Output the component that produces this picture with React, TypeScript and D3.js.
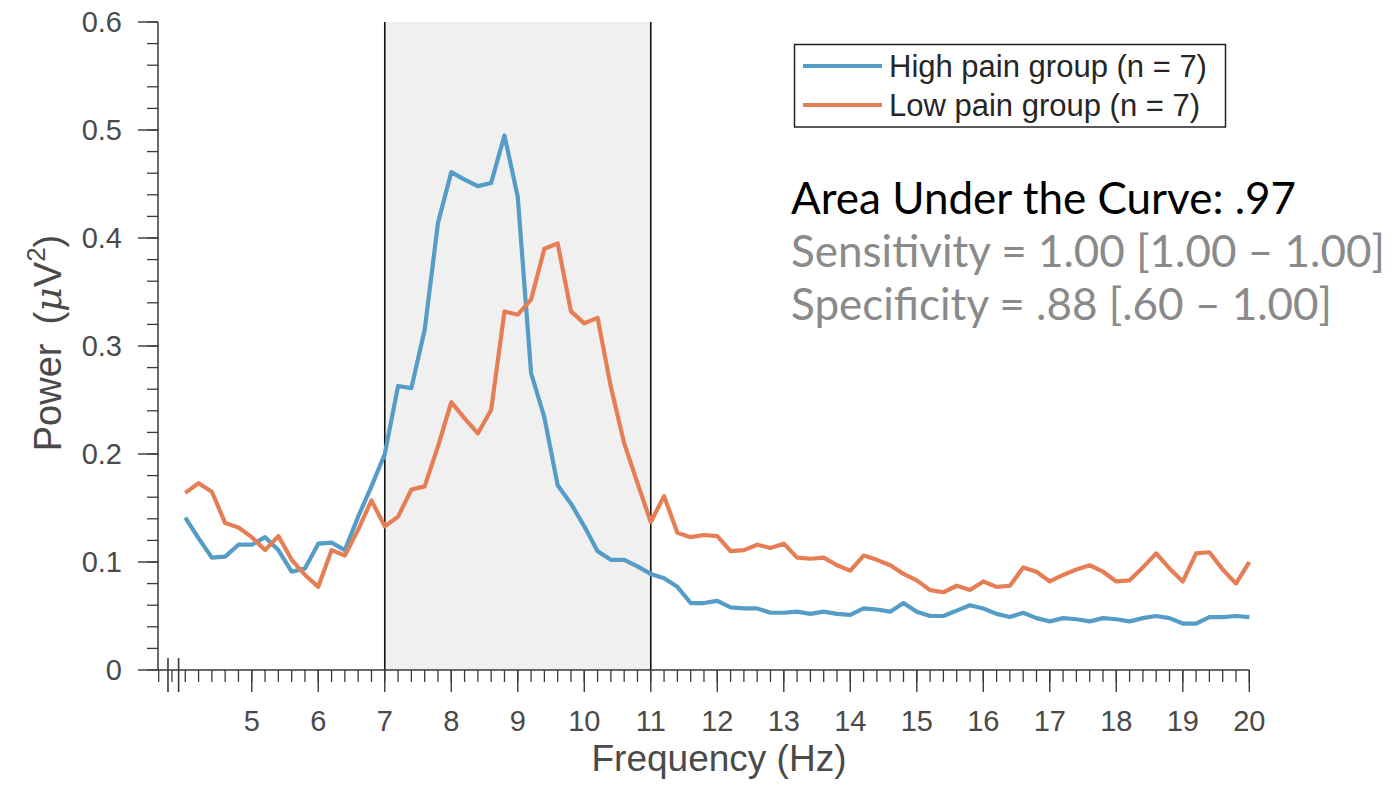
import React from "react";
import * as d3 from "d3";

// ---------- data ----------
const freqs: number[] = d3.range(81).map((i) => +(4 + i * 0.2).toFixed(1));

const highPain: number[] = [
  0.141, 0.122, 0.104, 0.105, 0.116, 0.116, 0.123, 0.111, 0.091, 0.094,
  0.117, 0.118, 0.111, 0.142, 0.170, 0.200, 0.263, 0.261, 0.315, 0.414,
  0.461, 0.454, 0.448, 0.451, 0.495, 0.438, 0.275, 0.234, 0.171, 0.154,
  0.133, 0.110, 0.102, 0.102, 0.096, 0.089, 0.085, 0.077, 0.062, 0.062,
  0.064, 0.058, 0.057, 0.057, 0.053, 0.053, 0.054, 0.052, 0.054, 0.052,
  0.051, 0.057, 0.056, 0.054, 0.062, 0.054, 0.050, 0.050, 0.055, 0.060,
  0.057, 0.052, 0.049, 0.053, 0.048, 0.045, 0.048, 0.047, 0.045, 0.048,
  0.047, 0.045, 0.048, 0.050, 0.048, 0.043, 0.043, 0.049, 0.049, 0.050,
  0.049,
];

const lowPain: number[] = [
  0.164, 0.173, 0.165, 0.136, 0.132, 0.123, 0.111, 0.124, 0.102, 0.088,
  0.077, 0.111, 0.106, 0.130, 0.157, 0.133, 0.142, 0.167, 0.170, 0.207,
  0.248, 0.233, 0.219, 0.241, 0.332, 0.329, 0.343, 0.390, 0.395, 0.332,
  0.321, 0.326, 0.262, 0.210, 0.173, 0.137, 0.161, 0.127, 0.123, 0.125,
  0.124, 0.110, 0.111, 0.116, 0.113, 0.117, 0.104, 0.103, 0.104, 0.097,
  0.092, 0.106, 0.102, 0.097, 0.089, 0.083, 0.074, 0.072, 0.078, 0.074,
  0.082, 0.077, 0.078, 0.095, 0.091, 0.082, 0.088, 0.093, 0.097, 0.091,
  0.082, 0.083, 0.095, 0.108, 0.094, 0.082, 0.108, 0.109, 0.093, 0.080,
  0.100,
];

const xTickValues: number[] = [5, 6, 7, 8, 9, 10, 11, 12, 13, 14, 15, 16, 17, 18, 19, 20];
const yTickValues: number[] = [0, 0.1, 0.2, 0.3, 0.4, 0.5, 0.6];
const xDomain: [number, number] = [3.59, 20];
const yDomain: [number, number] = [0, 0.6];
const bandRange: [number, number] = [7, 11];
const artifactTicks: number[] = [3.74, 3.9];

const seriesNames: string[] = ["High pain group (n = 7)", "Low pain group (n = 7)"];
const annotations: string[] = [
  "Area Under the Curve: .97",
  "Sensitivity = 1.00 [1.00 \u2013 1.00]",
  "Specificity = .88 [.60 \u2013 1.00]",
];

// ---------- styles ----------
const BLUE = "#559cc6";
const ORANGE = "#e67e55";
const AXIS = "#3a3a3a";
const LABEL = "#4a4a4a";
const FONT = "'Liberation Sans', Arial, sans-serif";

export default function App() {
  const W = 1394;
  const H = 790;
  const x = d3.scaleLinear().domain(xDomain).range([158, 1249.3]);
  const y = d3.scaleLinear().domain(yDomain).range([670, 22]);

  const line = d3
    .line<number>()
    .x((_, i) => x(freqs[i]))
    .y((d) => y(d));

  const xMinor = d3.range(0, 83).map((i) => +(3.6 + i * 0.2).toFixed(1)).filter((f) => f <= 20.001);
  const yMinor = d3.range(0, 31).map((i) => +(i * 0.02).toFixed(2));

  const x0 = x(xDomain[0]);
  const y0 = y(0);

  const legRow0 = 66;
  const legRowGap = 39;

  return (
    <svg
      width={W}
      height={H}
      style={{ position: "absolute", left: 0, top: 0, background: "#fff" }}
    >
      {/* shaded band */}
      <rect
        x={x(bandRange[0])}
        y={y(yDomain[1])}
        width={x(bandRange[1]) - x(bandRange[0])}
        height={y(0) - y(yDomain[1])}
        fill="#f0f0f0"
      />
      {bandRange.map((b) => (
        <line key={b} x1={x(b)} x2={x(b)} y1={y(yDomain[1])} y2={y0} stroke="#111" strokeWidth={1.6} />
      ))}

      {/* y axis */}
      <line x1={x0} x2={x0} y1={y(yDomain[1])} y2={y0} stroke={AXIS} strokeWidth={1.5} />
      {yMinor.map((v) => (
        <line key={"ym" + v} x1={x0 - 11} x2={x0} y1={y(v)} y2={y(v)} stroke={AXIS} strokeWidth={1.3} />
      ))}
      {yTickValues.map((v) => (
        <g key={"yt" + v}>
          <line x1={x0 - 20} x2={x0} y1={y(v)} y2={y(v)} stroke={AXIS} strokeWidth={1.4} />
          <text
            x={x0 - 36}
            y={y(v)}
            dy="0.36em"
            textAnchor="end"
            fontFamily={FONT}
            fontSize={29}
            fill={LABEL}
          >
            {v === 0 ? "0" : d3.format(".1f")(v)}
          </text>
        </g>
      ))}

      {/* x axis */}
      <line x1={x0} x2={x(xDomain[1])} y1={y0} y2={y0} stroke={AXIS} strokeWidth={1.5} />
      {xMinor.map((f) => (
        <line key={"xm" + f} x1={x(f)} x2={x(f)} y1={y0} y2={y0 + 12} stroke={AXIS} strokeWidth={1.3} />
      ))}
      {artifactTicks.map((f) => (
        <line key={"xa" + f} x1={x(f)} x2={x(f)} y1={y0 - 12} y2={y0 + 22} stroke={AXIS} strokeWidth={1.6} />
      ))}
      {xTickValues.map((f) => (
        <g key={"xt" + f}>
          <line x1={x(f)} x2={x(f)} y1={y0} y2={y0 + 22} stroke={AXIS} strokeWidth={1.4} />
          <text
            x={x(f)}
            y={y0 + 51}
            dy="0.36em"
            textAnchor="middle"
            fontFamily={FONT}
            fontSize={29}
            fill={LABEL}
          >
            {f}
          </text>
        </g>
      ))}

      {/* axis titles */}
      <text
        x={719}
        y={771}
        textAnchor="middle"
        fontFamily={FONT}
        fontSize={37}
        fill={LABEL}
      >
        Frequency (Hz)
      </text>
      <text
        transform={`translate(61,343) rotate(-90)`}
        textAnchor="middle"
        fontFamily={FONT}
        fontSize={38}
        fill={LABEL}
      >
        {"Power\u2002("}
        <tspan fontStyle="italic" fontFamily="'DejaVu Serif', serif">{"\u03bc"}</tspan>
        <tspan>V</tspan>
        <tspan fontSize={26} dy="-0.6em">2</tspan>
        <tspan dy="0.4em">)</tspan>
      </text>

      {/* series */}
      <path d={line(highPain) || ""} fill="none" stroke={BLUE} strokeWidth={4.2} strokeLinejoin="round" />
      <path d={line(lowPain) || ""} fill="none" stroke={ORANGE} strokeWidth={4.2} strokeLinejoin="round" />

      {/* legend */}
      <rect
        x={794.5}
        y={44.5}
        width={431}
        height={legRow0 + legRowGap + 22 - 44.5}
        fill="#fff"
        stroke="#222"
        strokeWidth={1.5}
      />
      {seriesNames.map((name, i) => (
        <g key={name}>
          <line
            x1={803}
            x2={882}
            y1={legRow0 + i * legRowGap}
            y2={legRow0 + i * legRowGap}
            stroke={i === 0 ? BLUE : ORANGE}
            strokeWidth={4.2}
          />
          <text
            x={889}
            y={legRow0 + i * legRowGap}
            dy="0.36em"
            fontFamily={FONT}
            fontSize={31}
            fill="#262626"
          >
            {name}
          </text>
        </g>
      ))}

      {/* annotations */}
      {annotations.map((t, i) => (
        <text
          key={t}
          x={791}
          y={214 + i * 53}
          fontFamily="Lato, 'Open Sans', sans-serif"
          fontSize={44}
          fill={i === 0 ? "#000" : "#8a8a8a"}
        >
          {t}
        </text>
      ))}
    </svg>
  );
}
